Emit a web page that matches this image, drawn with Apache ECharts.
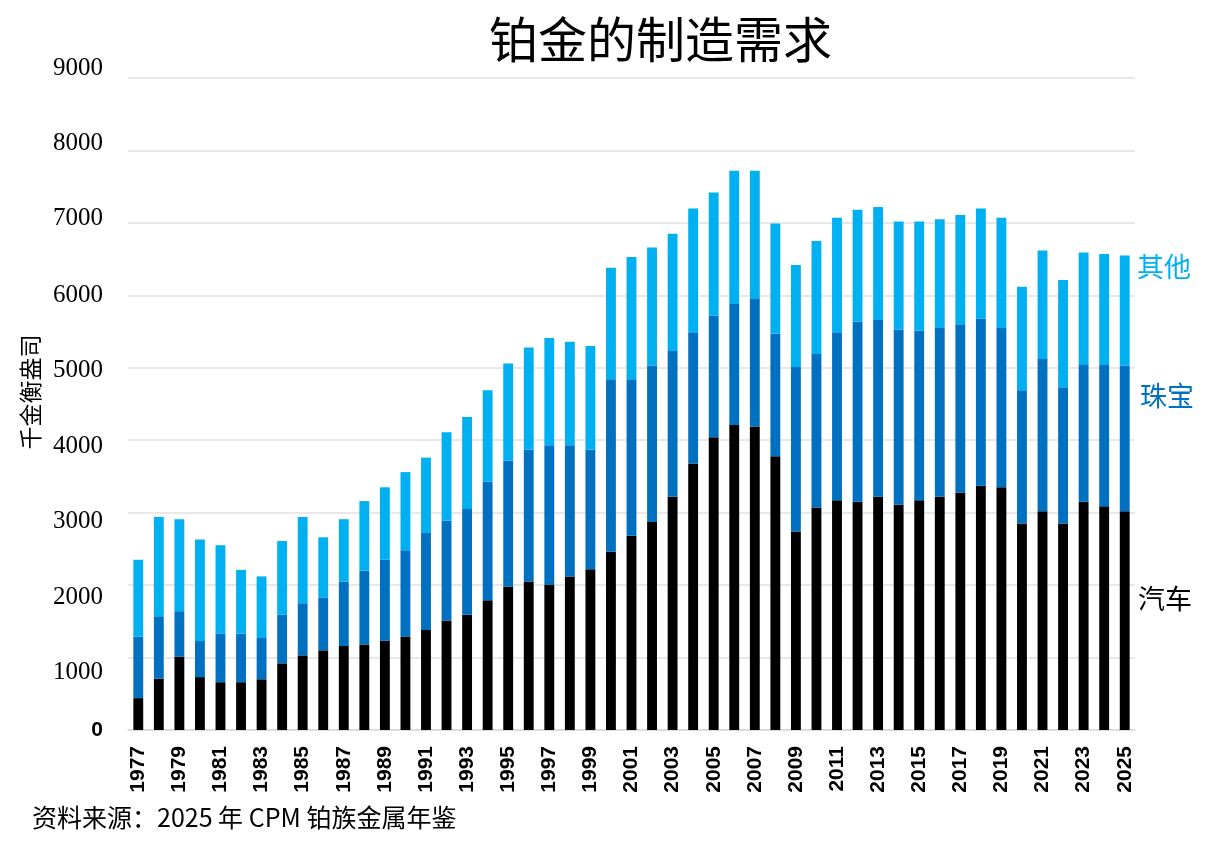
<!DOCTYPE html>
<html><head><meta charset="utf-8">
<script src="https://cdn.jsdelivr.net/npm/echarts@6/dist/echarts.min.js"></script>
<style>html,body{margin:0;padding:0;background:#fff}#c{width:1220px;height:847px}</style>
</head><body><div id="c"></div>
<script>
const years = [];
for (let y = 1977; y <= 2025; y++) years.push(String(y));

const auto = [440,710,1010,730,660,660,700,920,1030,1100,1160,1180,1230,1290,1380,1510,1590,1790,1980,2050,2000,2120,2220,2460,2680,2870,3220,3680,4040,4210,4190,3780,2740,3070,3170,3150,3220,3110,3170,3220,3280,3370,3350,2850,3020,2850,3150,3090,3020];
const jewelry = [850,860,630,500,670,670,570,670,720,730,890,1020,1120,1190,1340,1380,1460,1640,1740,1820,1930,1810,1650,2380,2160,2160,2010,1810,1680,1670,1770,1690,2270,2120,2320,2490,2440,2420,2340,2330,2320,2310,2200,1840,2100,1880,1890,1950,2010];
const other = [1060,1370,1270,1400,1220,880,850,1020,1190,830,860,960,1000,1080,1040,1220,1270,1260,1340,1410,1480,1430,1430,1540,1690,1630,1620,1710,1700,1840,1760,1520,1410,1560,1580,1540,1560,1490,1510,1500,1510,1520,1520,1430,1500,1480,1550,1530,1520];
const yTicks = [0,1000,2000,3000,4000,5000,6000,7000,8000,9000];

const seriesNames = ['汽车','珠宝','其他'];
const titleText = '铂金的制造需求';
const yName = '千金衡盎司';
const sourceText = '资料来源：2025 年 CPM 铂族金属年鉴';

const colors = ['#000000','#0070C0','#00B0F0'];

// label styles: in the reference the tick labels drift slightly from the gridlines
const rich = {z:{fontFamily:'Liberation Sans',fontWeight:'bold',fontSize:21,color:'#000'}};
yTicks.forEach(v => {
  if (v === 0) return;
  const d = Math.round(18.6 - 0.00316 * v);
  rich['v' + v] = {fontFamily:'Liberation Serif',fontSize:25,color:'#000',
    padding: d >= 0 ? [2*d,0,0,0] : [0,0,-2*d,0]};
});

const chart = echarts.init(document.getElementById('c'));
const mk = (name, data, i) => ({
  name, type:'bar', stack:'t', data, barWidth:'48%',
  itemStyle:{color:colors[i]}
});
chart.setOption({
  animation:false,
  title:{text:titleText,left:484,top:10,
    textStyle:{fontFamily:'Noto Sans CJK SC',fontWeight:'normal',fontSize:49,color:'#000'}},
  grid:{left:128,right:85,top:78,bottom:117},
  xAxis:{type:'category',data:years,
    axisLine:{lineStyle:{color:'#d9d9d9',width:1.5}},
    axisTick:{interval:1,length:8,lineStyle:{color:'#d9d9d9',width:1.5}},
    axisLabel:{interval:1,rotate:90,fontFamily:'Liberation Sans',fontWeight:'bold',fontSize:21,color:'#000',margin:16}},
  yAxis:{type:'value',min:0,max:9000,interval:1000,
    name:yName,nameLocation:'middle',nameGap:82,nameRotate:90,
    nameTextStyle:{fontFamily:'Noto Sans CJK SC',fontSize:23,color:'#000',padding:[0,0,0,24]},
    axisLine:{show:false},axisTick:{show:false},
    splitLine:{lineStyle:{color:'#e0e0e0',width:1.5}},
    axisLabel:{margin:25,
      formatter:v=> v===0 ? '{z|0}' : '{v'+v+'|'+v+'}',
      rich}},
  series:[mk(seriesNames[0],auto,0),mk(seriesNames[1],jewelry,1),mk(seriesNames[2],other,2)],
  graphic:[
    {type:'text',left:1137,top:253,style:{text:seriesNames[2],fill:'#00B0F0',font:'27px "Noto Sans CJK SC"'}},
    {type:'text',left:1140,top:382,style:{text:seriesNames[1],fill:'#0070C0',font:'27px "Noto Sans CJK SC"'}},
    {type:'text',left:1138,top:585,style:{text:seriesNames[0],fill:'#000',font:'27px "Noto Sans CJK SC"'}},
    {type:'text',left:32,top:805,style:{text:sourceText,fill:'#000',font:'25px "Noto Sans CJK SC"'}}
  ]
});
</script></body></html>
